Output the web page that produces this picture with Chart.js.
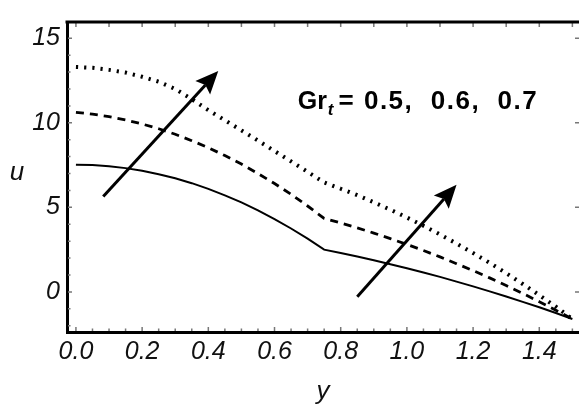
<!DOCTYPE html>
<html>
<head>
<meta charset="utf-8">
<script src="https://cdn.jsdelivr.net/npm/chart.js@4/dist/chart.umd.min.js"></script>
<style>
  body { margin: 0; background: #fff; }
  canvas { display: block; }
</style>
</head>
<body>
<canvas id="chart" width="579" height="410"></canvas>
<script>
// y positions (horizontal axis of the plot)
const yCoord = [0, 0.05, 0.1, 0.15, 0.2, 0.25, 0.3, 0.35, 0.4, 0.45, 0.5, 0.55, 0.6, 0.65, 0.7, 0.75,
  0.8, 0.85, 0.9, 0.95, 1.0, 1.05, 1.1, 1.15, 1.2, 1.25, 1.3, 1.35, 1.4, 1.45, 1.5];

// u for Gr_t = 0.5 (solid), 0.6 (dashed), 0.7 (dotted)
const uGr05 = [7.52, 7.50, 7.43, 7.32, 7.16, 6.96, 6.72, 6.43, 6.09, 5.71, 5.29, 4.82, 4.31, 3.75, 3.15, 2.50,
  2.30, 2.09, 1.87, 1.64, 1.40, 1.15, 0.89, 0.61, 0.33, 0.03, -0.27, -0.59, -0.91, -1.25, -1.60];
const uGr06 = [10.62, 10.51, 10.36, 10.17, 9.93, 9.65, 9.32, 8.94, 8.53, 8.06, 7.56, 7.00, 6.41, 5.77, 5.08, 4.35,
  4.08, 3.79, 3.48, 3.15, 2.81, 2.45, 2.07, 1.67, 1.26, 0.83, 0.38, -0.09, -0.58, -1.08, -1.60];
const uGr07 = [13.30, 13.25, 13.13, 12.97, 12.72, 12.43, 12.00, 11.40, 10.75, 10.15, 9.55, 8.95, 8.33, 7.72, 7.10, 6.47,
  6.10, 5.72, 5.30, 4.86, 4.40, 3.91, 3.40, 2.86, 2.30, 1.72, 1.11, 0.47, -0.19, -0.87, -1.60];

const yTicks = [0, 0.2, 0.4, 0.6, 0.8, 1.0, 1.2, 1.4];
const uTicks = [0, 5, 10, 15];

// arrows: [tail, tip] in data units
const arrowLeft = [[0.0825, 5.64], [0.43, 13.07]];
const arrowRight = [[0.85, -0.28], [1.15, 6.33]];

const labelAt = [0.67, 10.83];

const toPoints = (values) => values.map((u, i) => ({ x: yCoord[i], y: u }));

const drawArrow = (ctx, x, y, [tail, tip]) => {
  const x0 = x.getPixelForValue(tail[0]);
  const y0 = y.getPixelForValue(tail[1]);
  const x1 = x.getPixelForValue(tip[0]);
  const y1 = y.getPixelForValue(tip[1]);
  const ang = Math.atan2(y1 - y0, x1 - x0);
  const headLen = 23;
  const headHalf = 10;
  const bx = x1 - headLen * Math.cos(ang);
  const by = y1 - headLen * Math.sin(ang);

  ctx.strokeStyle = '#000';
  ctx.fillStyle = '#000';
  ctx.lineWidth = 3;
  ctx.beginPath();
  ctx.moveTo(x0, y0);
  ctx.lineTo(bx + 4 * Math.cos(ang), by + 4 * Math.sin(ang));
  ctx.stroke();

  ctx.beginPath();
  ctx.moveTo(x1, y1);
  ctx.lineTo(bx + headHalf * Math.sin(ang), by - headHalf * Math.cos(ang));
  ctx.lineTo(bx + 4 * Math.cos(ang), by + 4 * Math.sin(ang));
  ctx.lineTo(bx - headHalf * Math.sin(ang), by + headHalf * Math.cos(ang));
  ctx.closePath();
  ctx.fill();
};

const arrows = {
  id: 'arrows',
  afterDatasetsDraw(chart) {
    const { ctx, scales: { x, y } } = chart;
    ctx.save();
    drawArrow(ctx, x, y, arrowLeft);
    drawArrow(ctx, x, y, arrowRight);
    ctx.restore();
  },
};

const frame = {
  id: 'frame',
  afterDraw(chart) {
    const { ctx, chartArea: a, scales: { x, y } } = chart;
    ctx.save();

    // small inward ticks
    ctx.strokeStyle = '#777';
    ctx.lineWidth = 1.5;
    ctx.beginPath();
    for (let i = 0; i <= 30; i++) {
      const v = i * 0.05;
      const px = x.getPixelForValue(v);
      const len = i % 4 === 0 ? 4 : 2.5;
      ctx.moveTo(px, a.bottom - 1);
      ctx.lineTo(px, a.bottom - 1 - len);
    }
    for (let i = 0; i <= 15; i++) {
      const px = x.getPixelForValue(i * 0.1);
      ctx.moveTo(px, a.top + 1);
      ctx.lineTo(px, a.top + 1 + 4);
    }
    for (let v = -2; v <= 15; v++) {
      const py = y.getPixelForValue(v);
      const len = v % 5 === 0 ? 4 : 2.5;
      ctx.moveTo(a.left + 1, py);
      ctx.lineTo(a.left + 1 + len, py);
      if (v % 5 === 0) {
        ctx.moveTo(a.right, py);
        ctx.lineTo(a.right - 4, py);
      }
    }
    ctx.stroke();

    // top edge of frame
    ctx.strokeStyle = '#000';
    ctx.lineWidth = 3;
    ctx.beginPath();
    ctx.moveTo(a.left - 1.5, a.top);
    ctx.lineTo(a.right, a.top);
    ctx.stroke();

    // axis names
    ctx.fillStyle = '#111';
    ctx.font = 'italic 26px "Liberation Sans", Arial, sans-serif';
    ctx.textAlign = 'center';
    ctx.textBaseline = 'alphabetic';
    ctx.fillText('u', 17, 180);
    ctx.fillText('y', (a.left + a.right) / 2, 399);

    // Gr_t label
    let tx = x.getPixelForValue(labelAt[0]);
    const ty = y.getPixelForValue(labelAt[1]);
    ctx.fillStyle = '#000';
    ctx.textAlign = 'left';
    ctx.font = 'bold 25px "Liberation Sans", Arial, sans-serif';
    ctx.fillText('Gr', tx, ty);
    tx += ctx.measureText('Gr').width + 1;
    ctx.font = 'italic bold 17px "Liberation Sans", Arial, sans-serif';
    ctx.fillText('t', tx, ty + 6);
    tx += ctx.measureText('t').width + 5;
    ctx.font = 'bold 26px "Liberation Sans", Arial, sans-serif';
    ctx.letterSpacing = '1.5px';
    ctx.fillText('= 0.5,  0.6,  0.7', tx, ty);

    ctx.restore();
  },
};

const tickFont = { family: '"Liberation Sans", Arial, sans-serif', size: 25, style: 'italic' };

new Chart(document.getElementById('chart'), {
  type: 'line',
  data: {
    datasets: [
      {
        data: toPoints(uGr05),
        borderColor: '#000',
        borderWidth: 2,
        pointRadius: 0,
        tension: 0,
        label: 'Gr_t = 0.5',
      },
      {
        data: toPoints(uGr06),
        borderColor: '#000',
        borderWidth: 2.8,
        borderDash: [8, 6],
        pointRadius: 0,
        tension: 0,
        label: 'Gr_t = 0.6',
      },
      {
        data: toPoints(uGr07),
        borderColor: '#000',
        borderWidth: 4,
        borderDash: [2.2, 6],
        pointRadius: 0,
        tension: 0,
        label: 'Gr_t = 0.7',
      },
    ],
  },
  options: {
    responsive: false,
    animation: false,
    layout: { padding: { top: 7, right: 0, left: 0, bottom: 0 } },
    plugins: {
      legend: { display: false },
      tooltip: { enabled: false },
    },
    scales: {
      x: {
        type: 'linear',
        min: -0.027,
        max: 1.52,
        afterFit: (scale) => { scale.height = 78; },
        afterBuildTicks: (scale) => { scale.ticks = yTicks.map((v) => ({ value: v })); },
        grid: { display: false, drawTicks: false },
        border: { display: true, color: '#000', width: 3 },
        ticks: {
          autoSkip: false,
          maxRotation: 0,
          padding: 5,
          color: '#111',
          font: tickFont,
          callback: (v) => Number(v).toFixed(1),
        },
      },
      y: {
        type: 'linear',
        min: -2.37,
        max: 15.96,
        afterFit: (scale) => { scale.width = 67; },
        afterBuildTicks: (scale) => { scale.ticks = uTicks.map((v) => ({ value: v })); },
        grid: { display: false, drawTicks: false },
        border: { display: true, color: '#000', width: 3 },
        ticks: {
          autoSkip: false,
          padding: 7,
          color: '#111',
          font: tickFont,
          callback: (v) => String(v),
        },
      },
    },
  },
  plugins: [arrows, frame],
});
</script>
</body>
</html>
